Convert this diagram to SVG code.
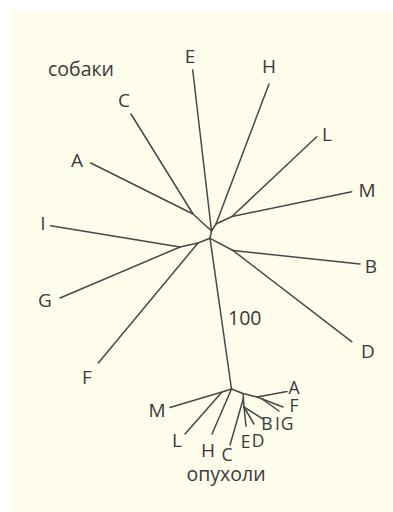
<svg xmlns="http://www.w3.org/2000/svg" width="393" height="512" viewBox="0 0 393 512">
<style>
.e{stroke:#484848;stroke-width:1.5;fill:none;stroke-linecap:round;stroke-linejoin:round}
.t{font-family:"Open Sans","Noto Sans",sans-serif;font-size:19px;fill:#3a3a3a;text-anchor:middle}
.u{font-family:"Open Sans","Noto Sans",sans-serif;font-size:17.5px;fill:#3a3a3a;text-anchor:middle}
.s{font-family:"Open Sans","Noto Sans",sans-serif;font-size:19.5px;fill:#3a3a3a}
</style>
<rect width="393" height="512" fill="#ffffff"/>
<rect x="11" y="11" width="382" height="501" fill="#fefcea"/>
<g id="connectors">
<polyline class="e" points="192.7,70 211.5,231 210,238.3 231.5,389"/>
<polyline class="e" points="131,114 193,214 211.5,231"/>
<polyline class="e" points="90.7,163 193,214"/>
<polyline class="e" points="269,84 216,224 211.5,231"/>
<polyline class="e" points="316.7,136.7 232,216.5 216,224"/>
<polyline class="e" points="351.7,191.7 232,216.5"/>
<polyline class="e" points="210,238.3 198,243 180,247 50.7,225.7"/>
<polyline class="e" points="60,298 180,247"/>
<polyline class="e" points="98.3,363 198,243"/>
<polyline class="e" points="210,238.3 233,250.5 351.7,341.7"/>
<polyline class="e" points="233,250.5 360,264"/>
<polyline class="e" points="231.5,389 222,392 170,407.5"/>
<polyline class="e" points="222,392 185,434"/>
<polyline class="e" points="231.5,389 212,434"/>
<polyline class="e" points="231.5,389 243,393.5 257,397 287,391.5"/>
<polyline class="e" points="257,397 283,407"/>
<polyline class="e" points="262,399 279,411"/>
<polyline class="e" points="243,393.5 244,407 246,426"/>
<polyline class="e" points="244,407 254,424"/>
<polyline class="e" points="244,407 263,419"/>
<polyline class="e" points="243.5,398 230,445"/>
</g>
<g id="dogs-label"><text class="s" x="48" y="76">собаки</text></g>
<g id="dog-E"><text class="t" x="190" y="63">E</text></g>
<g id="dog-H"><text class="t" x="269" y="73">H</text></g>
<g id="dog-C"><text class="t" x="124" y="107">C</text></g>
<g id="dog-L"><text class="t" x="327" y="141">L</text></g>
<g id="dog-A"><text class="t" x="77" y="167">A</text></g>
<g id="dog-M"><text class="t" x="367" y="197">M</text></g>
<g id="dog-I"><text class="t" x="43" y="230">I</text></g>
<g id="dog-B"><text class="t" x="371" y="273">B</text></g>
<g id="dog-G"><text class="t" x="45" y="307">G</text></g>
<g id="bootstrap"><text class="s" x="228" y="325">100</text></g>
<g id="dog-D"><text class="t" x="368" y="358">D</text></g>
<g id="dog-F"><text class="t" x="87" y="384">F</text></g>
<g id="tum-A"><text class="u" x="294" y="394">A</text></g>
<g id="tum-F"><text class="u" x="294" y="412">F</text></g>
<g id="tum-M"><text class="t" x="157" y="417">M</text></g>
<g id="tum-B"><text class="u" x="267" y="430">B</text></g>
<g id="tum-I"><text class="u" x="277.5" y="430">I</text></g>
<g id="tum-G"><text class="u" x="287" y="430">G</text></g>
<g id="tum-L"><text class="t" x="177" y="447">L</text></g>
<g id="tum-E"><text class="u" x="245.5" y="448">E</text></g>
<g id="tum-D"><text class="u" x="258" y="447">D</text></g>
<g id="tum-H"><text class="t" x="208" y="457">H</text></g>
<g id="tum-C"><text class="u" x="227" y="461">C</text></g>
<g id="tumors-label"><text class="s" x="226" y="481" text-anchor="middle">опухоли</text></g>
</svg>
